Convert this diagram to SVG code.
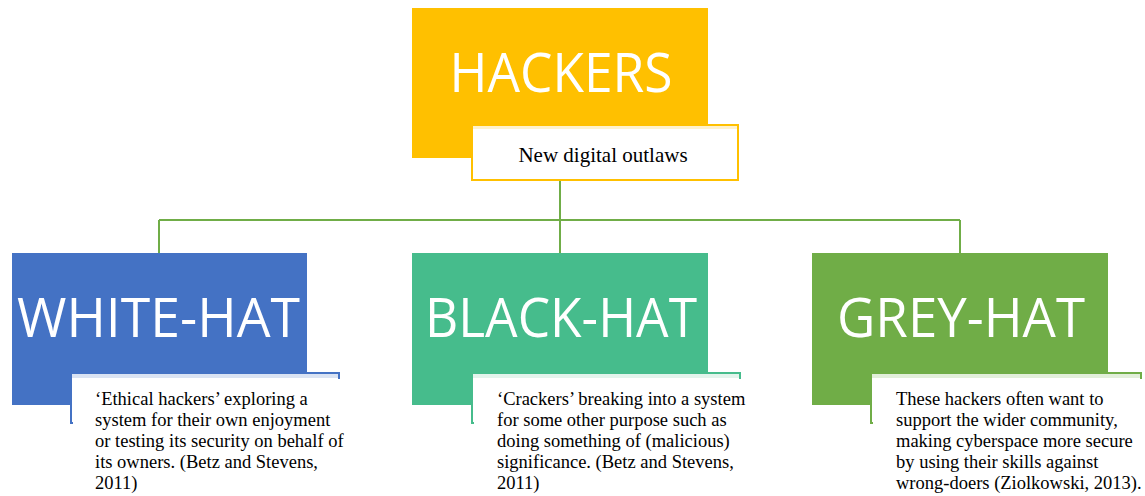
<svg xmlns="http://www.w3.org/2000/svg" width="1145" height="496" viewBox="0 0 1145 496">
<style>
.title{font-family:"Open Sans","Liberation Sans",sans-serif;font-weight:400;font-size:54px;fill:#ffffff}
.body{font-family:"Liberation Serif","Times New Roman",serif;font-size:18.5px;fill:#000000}
.sub{fill:#ffffff;stroke-width:2}
.conn{fill:none;stroke:#70AD47;stroke-width:2}
</style>
<rect width="1145" height="496" fill="#ffffff"/>
<g id="connectors">
<path class="conn" d="M560,180 V220 M159,220 H960 M159,220 V253 M560,220 V253 M960,220 V253"/>
</g>
<g id="hackers">
<rect x="412" y="8" width="296" height="150" fill="#FFC000"/>
<text class="title" x="561" y="92" text-anchor="middle" textLength="223" lengthAdjust="spacingAndGlyphs">HACKERS</text>
<rect class="sub" x="472" y="125" width="266" height="55" stroke="#FFC000"/>
<rect x="473" y="126" width="264" height="3" fill="#FFF2CC"/>
<text class="body" x="603" y="162" text-anchor="middle" style="font-size:21px">New digital outlaws</text>
</g>
<g id="white-hat">
<rect x="12" y="253" width="295" height="152" fill="#4472C4"/>
<text class="title" x="17" y="337" textLength="283" lengthAdjust="spacingAndGlyphs">WHITE-HAT</text>
<rect class="sub" x="71" y="373" width="268" height="50" stroke="#4472C4"/>
<rect x="73" y="379" width="272" height="117" fill="#ffffff"/>
<rect x="72" y="374" width="266" height="4" fill="#DAE3F3"/>
<text class="body" x="95" y="405">‘Ethical hackers’ exploring a</text>
<text class="body" x="95" y="426">system for their own enjoyment</text>
<text class="body" x="95" y="447">or testing its security on behalf of</text>
<text class="body" x="95" y="468">its owners. (Betz and Stevens,</text>
<text class="body" x="95" y="489">2011)</text>
</g>
<g id="black-hat">
<rect x="412" y="253" width="296" height="152" fill="#46BC8C"/>
<text class="title" x="425" y="337" textLength="272" lengthAdjust="spacingAndGlyphs">BLACK-HAT</text>
<rect class="sub" x="472" y="373" width="268" height="50" stroke="#46BC8C"/>
<rect x="474" y="379" width="272" height="117" fill="#ffffff"/>
<rect x="473" y="374" width="266" height="4" fill="#E3F4EC"/>
<text class="body" x="497" y="405">‘Crackers’ breaking into a system</text>
<text class="body" x="497" y="426">for some other purpose such as</text>
<text class="body" x="497" y="447">doing something of (malicious)</text>
<text class="body" x="497" y="468">significance. (Betz and Stevens,</text>
<text class="body" x="497" y="489">2011)</text>
</g>
<g id="grey-hat">
<rect x="812" y="253" width="296" height="152" fill="#70AD47"/>
<text class="title" x="837" y="337" textLength="248" lengthAdjust="spacingAndGlyphs">GREY-HAT</text>
<rect class="sub" x="871" y="373" width="270" height="50" stroke="#70AD47"/>
<rect x="873" y="379" width="272" height="117" fill="#ffffff"/>
<rect x="872" y="374" width="268" height="4" fill="#E2EFDA"/>
<text class="body" x="896" y="405">These hackers often want to</text>
<text class="body" x="896" y="426">support the wider community,</text>
<text class="body" x="896" y="447">making cyberspace more secure</text>
<text class="body" x="896" y="468">by using their skills against</text>
<text class="body" x="896" y="489">wrong-doers (Ziolkowski, 2013).</text>
</g>
</svg>
